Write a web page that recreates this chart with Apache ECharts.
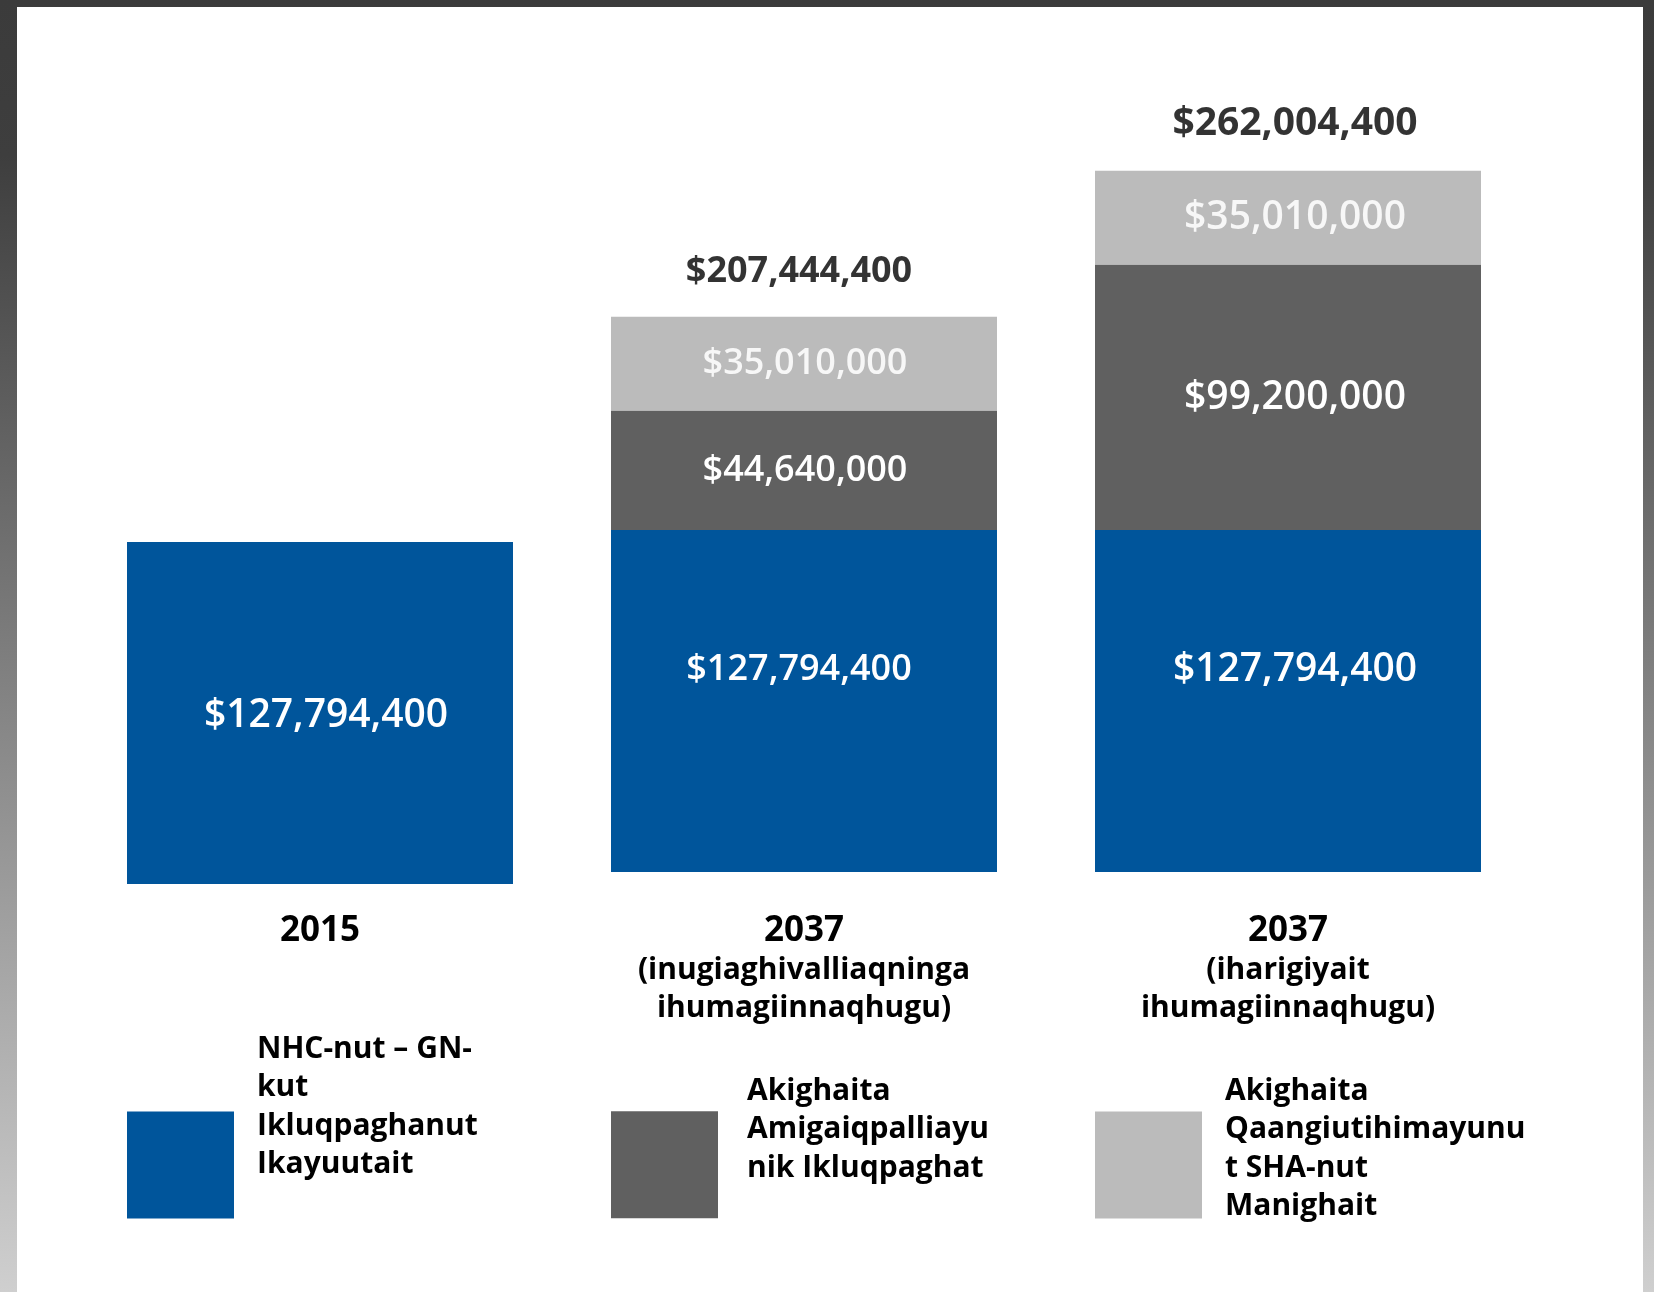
<!DOCTYPE html>
<html>
<head>
<meta charset="utf-8">
<title>Ikluqpaghat 2015 – 2037</title>
<script src="https://cdn.jsdelivr.net/npm/echarts@6/dist/echarts.min.js"></script>
<style>
  html, body { margin: 0; padding: 0; }
  body {
    width: 1654px; height: 1292px; overflow: hidden; position: relative;
    background: linear-gradient(to bottom, #3b3b3b 0%, #3e3e3e 12%, #cfcfcf 100%);
  }
  #panel { position: absolute; left: 17px; top: 7px; width: 1626px; height: 1285px; background: #fff; }
  #chart { position: absolute; left: 0; top: 0; width: 1654px; height: 1292px; }
</style>
</head>
<body>
<div id="panel"></div>
<div id="chart"></div>
<script>
// Data
const years = ['2015', '2037', '2037'];
const scenarios = ['', '(inugiaghivalliaqninga\nihumagiinnaqhugu)', '(iharigiyait\nihumagiinnaqhugu)'];
const seriesNames = [
    'NHC-nut – GN-kut Ikluqpaghanut Ikayuutait',
    'Akighaita Amigaiqpalliayunik Ikluqpaghat',
    'Akighaita Qaangiutihimayunut SHA-nut Manighait'
];
// legend text broken the way the slide shows it
const legendLines = [
    'NHC-nut – GN-\nkut\nIkluqpaghanut\nIkayuutait',
    'Akighaita\nAmigaiqpalliayu\nnik Ikluqpaghat',
    'Akighaita\nQaangiutihimayunu\nt SHA-nut\nManighait'
];
const baseCost = [127794400, 127794400, 127794400];
const deferredCost = [null, 44640000, 99200000];
const shaCost = [null, 35010000, 35010000];
const totals = [null, 207444400, 262004400];

// Styles
const colors = ['#00559b', '#606060', '#bbbbbb'];
const font = "'Open Sans', 'Noto Sans', sans-serif";
const labelSize = [39, 36, 39]; // the middle column is set a bit narrower
const shiftBlue = [6, -5, 7];   // text boxes on the slide are not quite centred
const shiftGrey = [0, 1, 7];
const legendGap = [116, 70, 32]; // blank space under each legend text block
const legendIndent = [18, 24, 18];
const legendLeft = [127, 611, 1095];
const legendTop = [1030, 1072, 1072];

const categories = years.map((y, i) => scenarios[i] ? y + '\n' + scenarios[i] : y);
const money = v => '$' + Number(v).toLocaleString('en-US');

const chart = echarts.init(document.getElementById('chart'));

// 2037 stacks live in grid 1, the 2015 bar in grid 0
function column(values, shiftX, dy) {
    return values.map((v, i) => {
        if (v == null || i === 0) return '-';
        return { value: v, label: { fontSize: labelSize[i], offset: [shiftX[i], dy] } };
    });
}

const insideLabel = {
    show: true,
    position: 'inside',
    color: '#fff',
    fontFamily: font,
    fontWeight: 600,
    formatter: p => money(p.value)
};

const option = {
    animation: false,
    backgroundColor: 'transparent',
    grid: [
        { left: 78, right: 124, top: 81, bottom: 408 },
        { left: 78, right: 124, top: 69, bottom: 420 }
    ],
    xAxis: [
        { type: 'category', gridIndex: 0, data: categories, show: false },
        {
            type: 'category', gridIndex: 1, data: categories,
            axisLine: { show: false }, axisTick: { show: false },
            axisLabel: {
                margin: 39,
                interval: 0,
                formatter: (value) => {
                    const parts = value.split('\n');
                    return parts.map((t, k) => k === 0 ? '{y|' + t + '}' : '{s|' + t + '}').join('\n');
                },
                rich: {
                    y: { fontFamily: font, fontSize: 35, fontWeight: 'bold', color: '#000', lineHeight: 40 },
                    s: { fontFamily: font, fontSize: 30, fontWeight: 'bold', color: '#000', lineHeight: 38 }
                }
            }
        }
    ],
    yAxis: [
        { type: 'value', gridIndex: 0, min: 0, max: 300000000, show: false, splitLine: { show: false } },
        { type: 'value', gridIndex: 1, min: 0, max: 300000000, show: false, splitLine: { show: false } }
    ],
    legend: seriesNames.map((name, i) => ({
        data: [name],
        left: legendLeft[i],
        top: legendTop[i],
        padding: 0,
        icon: 'rect',
        itemWidth: 107,
        itemHeight: 107,
        selectedMode: false,
        formatter: () => legendLines[i] + '\n{gap| }',
        textStyle: {
            fontFamily: font,
            fontSize: 30,
            fontWeight: 'bold',
            color: '#000',
            lineHeight: 38.5,
            padding: [0, 0, 0, legendIndent[i]],
            rich: {
                gap: { fontSize: 1, lineHeight: legendGap[i] }
            }
        }
    })),
    series: [
        {
            name: seriesNames[0], type: 'bar', xAxisIndex: 0, yAxisIndex: 0,
            barWidth: 386, itemStyle: { color: colors[0] },
            label: insideLabel,
            data: baseCost.map((v, i) => i === 0
                ? { value: v, label: { fontSize: labelSize[0], offset: [shiftBlue[0], 3] } }
                : '-')
        },
        {
            name: seriesNames[0], type: 'bar', xAxisIndex: 1, yAxisIndex: 1, stack: 'cost',
            barWidth: 386, itemStyle: { color: colors[0] },
            label: insideLabel,
            data: column(baseCost, shiftBlue, -31)
        },
        {
            name: seriesNames[1], type: 'bar', xAxisIndex: 1, yAxisIndex: 1, stack: 'cost',
            barWidth: 386, itemStyle: { color: colors[1] },
            label: insideLabel,
            data: column(deferredCost, shiftGrey, 1)
        },
        {
            name: seriesNames[2], type: 'bar', xAxisIndex: 1, yAxisIndex: 1, stack: 'cost',
            barWidth: 386, itemStyle: { color: colors[2] },
            label: Object.assign({}, insideLabel, { color: '#f7f7f7' }),
            data: column(shaCost, shiftGrey, 0)
        },
        {
            name: 'total', type: 'scatter', xAxisIndex: 1, yAxisIndex: 1,
            symbolSize: 0, silent: true,
            label: {
                show: true, position: 'top', distance: 27,
                color: '#000', fontFamily: font, fontWeight: 'bold',
                formatter: p => money(p.value)
            },
            data: totals.map((v, i) => v == null ? '-' : {
                value: v,
                label: { fontSize: labelSize[i], offset: [shiftBlue[i], 0] }
            })
        }
    ]
};

chart.setOption(option);
</script>
</body>
</html>
